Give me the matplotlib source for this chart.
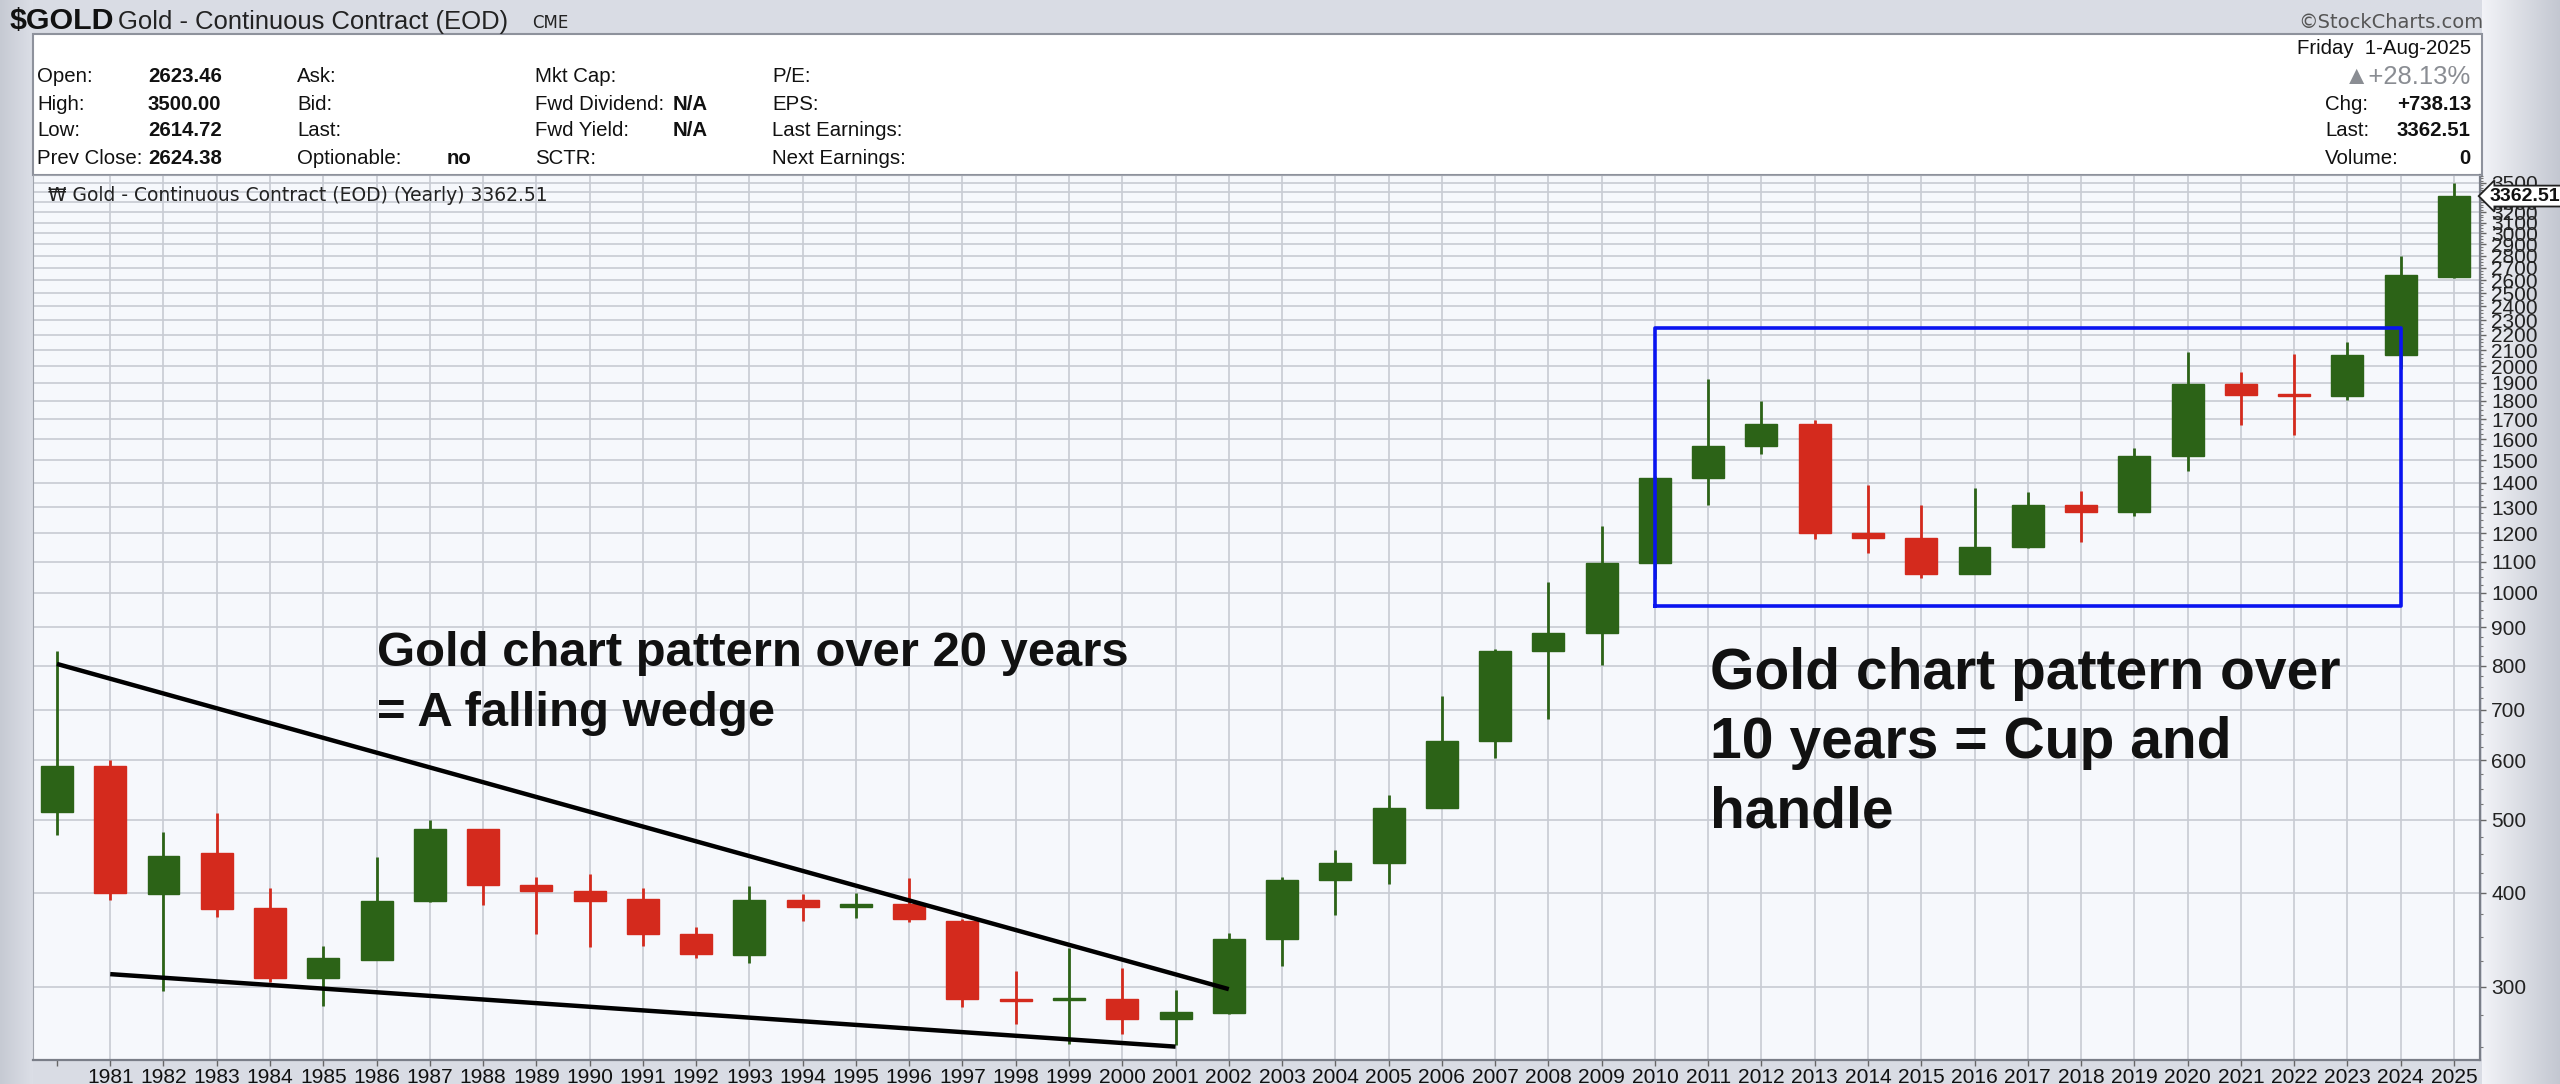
import numpy as np
import matplotlib
matplotlib.use("Agg")
import matplotlib.pyplot as plt
from matplotlib import font_manager as fm
from matplotlib.patches import Rectangle
from matplotlib.ticker import FixedLocator, FixedFormatter, NullFormatter

# ---------------- data ----------------
years = list(range(1980, 2026))
opens = [512, 590, 398, 452, 382, 308, 326, 390, 486, 410, 402, 393, 353, 331, 391, 383,
         387, 367, 289, 288, 289, 272, 277, 347, 416, 438, 518, 636, 838, 884, 1097, 1421,
         1566, 1675, 1202, 1184, 1061, 1152, 1309, 1282, 1519, 1895, 1829, 1826, 2072, 2623.46]
highs = [838, 600, 481, 510, 406, 340, 446, 500, 486, 420, 424, 406, 360, 409, 399, 400,
         418, 369, 315, 338, 318, 297, 354, 420, 456, 540, 730, 842, 1033, 1227, 1430, 1923,
         1796, 1697, 1392, 1308, 1377, 1362, 1366, 1557, 2089, 1962, 2078, 2152, 2801, 3500.00]
lows = [478, 391, 296, 372, 305, 283, 326, 389, 385, 353, 339, 340, 328, 323, 367, 370,
        366, 282, 268, 252, 260, 251, 276, 320, 374, 411, 518, 603, 681, 803, 1044, 1308,
        1527, 1180, 1131, 1046, 1061, 1147, 1167, 1266, 1451, 1673, 1618, 1804, 1985, 2614.72]
closes = [590, 400, 447, 381, 308, 328, 390, 486, 410, 402, 390, 353, 332, 391, 383, 387,
          369, 289, 287, 289, 272, 278, 347, 416, 438, 518, 636, 838, 884, 1097, 1421, 1566,
          1675, 1202, 1184, 1061, 1152, 1309, 1282, 1519, 1895, 1829, 1826, 2072, 2641, 3362.51]

xtick_years = list(range(1981, 2026))
ytick_values = [300, 400, 500, 600, 700, 800, 900] + list(range(1000, 3600, 100))

wedge_upper_x = [1980, 2002]
wedge_upper_y = [805, 298]
wedge_lower_x = [1981, 2001]
wedge_lower_y = [312, 250]
box_x = [2010, 2024]
box_y = [960, 2250]

last_price = 3362.51

# ---------------- fonts ----------------
names = {f.name for f in fm.fontManager.ttflist}
if "Liberation Sans Narrow" in names:
    NARROW = "Liberation Sans Narrow"
    NS = 1.0
else:
    NARROW = "Liberation Sans"
    NS = 0.84

def nk(size, **kw):
    d = dict(family=NARROW, fontsize=size * NS)
    d.update(kw)
    return d

W, H = 2560, 1084
fig = plt.figure(figsize=(W / 100, H / 100), dpi=100)
fig.patch.set_facecolor("#d8dbe3")

def fx(x):
    return x / W

def fy(y):
    return 1 - y / H

# background gradients
bg = fig.add_axes([0, 0, 1, 1], zorder=-10)
bg.set_axis_off()
img = np.ones((H, W, 3))
base = np.array([0xd9, 0xdc, 0xe4]) / 255
img[:] = base
xs = np.arange(W)
t = np.clip((xs - 2482) / (W - 2482), 0, 1)
c0 = np.array([0xf2, 0xf3, 0xf7]) / 255
c1 = np.array([0xc3, 0xc7, 0xd1]) / 255
right = c0[None, :] * (1 - t[:, None]) + c1[None, :] * t[:, None]
mask = xs >= 2482
img[:, mask, :] = right[mask][None, :, :]
tl = np.clip(xs / 33, 0, 1)
cl0 = np.array([0xc6, 0xca, 0xd3]) / 255
cl1 = np.array([0xdc, 0xdf, 0xe7]) / 255
left = cl0[None, :] * (1 - tl[:, None]) + cl1[None, :] * tl[:, None]
lm = xs < 33
img[:, lm, :] = left[lm][None, :, :]
bg.imshow(img, extent=[0, 1, 0, 1], aspect="auto", interpolation="bilinear")
bg.set_xlim(0, 1)
bg.set_ylim(0, 1)

# info box
fig.patches.append(Rectangle((fx(33), fy(175)), fx(2482) - fx(33), fy(34) - fy(175),
                             transform=fig.transFigure, facecolor="white",
                             edgecolor="#8e929c", lw=1.5, zorder=-5))

# ---------------- header text ----------------
fig.text(fx(10), fy(21), "$GOLD", va="center", ha="left", weight="bold", color="#111", **nk(26))
fig.text(fx(118), fy(22), "Gold - Continuous Contract (EOD)", va="center", ha="left", color="#222", **nk(22))
fig.text(fx(532), fy(23), "CME", va="center", ha="left", color="#222", family="DejaVu Sans", fontsize=12)
fig.text(fx(2483), fy(22), "\u00a9StockCharts.com", va="center", ha="right", color="#555",
         family="DejaVu Sans", fontsize=14)

rows_y = [77, 104, 131, 158]
col_lab = ["Open:", "High:", "Low:", "Prev Close:"]
col_val = ["2623.46", "3500.00", "2614.72", "2624.38"]
for y, l, v in zip(rows_y, col_lab, col_val):
    fig.text(fx(37), fy(y), l, va="center", ha="left", color="#111", **nk(17.5))
    fig.text(fx(148), fy(y), v, va="center", ha="left", color="#111", weight="bold", **nk(17.5))
for y, l in zip(rows_y, ["Ask:", "Bid:", "Last:", "Optionable:"]):
    fig.text(fx(297), fy(y), l, va="center", ha="left", color="#111", **nk(17.5))
fig.text(fx(447), fy(rows_y[3]), "no", va="center", ha="left", color="#111", weight="bold", **nk(17.5))
for y, l in zip(rows_y, ["Mkt Cap:", "Fwd Dividend:", "Fwd Yield:", "SCTR:"]):
    fig.text(fx(535), fy(y), l, va="center", ha="left", color="#111", **nk(17.5))
for y in rows_y[1:3]:
    fig.text(fx(673), fy(y), "N/A", va="center", ha="left", color="#111", weight="bold", **nk(17.5))
for y, l in zip(rows_y, ["P/E:", "EPS:", "Last Earnings:", "Next Earnings:"]):
    fig.text(fx(772), fy(y), l, va="center", ha="left", color="#111", **nk(17.5))

fig.text(fx(2471), fy(49), "Friday  1-Aug-2025", va="center", ha="right", color="#111", **nk(17.5))
fig.text(fx(2471), fy(77), "\u25b2+28.13%", va="center", ha="right", color="#8a8d93", **nk(22))
for y, l, v in zip(rows_y[1:], ["Chg:", "Last:", "Volume:"], ["+738.13", "3362.51", "0"]):
    fig.text(fx(2325), fy(y), l, va="center", ha="left", color="#111", **nk(17.5))
    fig.text(fx(2471), fy(y), v, va="center", ha="right", color="#111", weight="bold", **nk(17.5))

# ---------------- main chart ----------------
ax = fig.add_axes([fx(33), fy(1060), fx(2480) - fx(33), fy(175) - fy(1060)])
ax.set_facecolor("#f6f8fc")
ax.set_yscale("log")
ax.set_ylim(240, 3586)
ax.set_xlim(1979.55, 2025.49)

green = "#2c6317"
red = "#d42a1d"
o = np.array(opens, float)
c = np.array(closes, float)
h = np.array(highs, float)
l = np.array(lows, float)
yrs = np.array(years, float)
cols = [green if cc >= oo else red for oo, cc in zip(o, c)]
ax.vlines(yrs, l, h, colors=cols, lw=2.0, zorder=3)
bottom = np.minimum(o, c)
height = np.maximum(np.abs(c - o), bottom * 0.006)
ax.bar(yrs, height, bottom=bottom, width=0.6, color=cols, edgecolor=cols, lw=1, zorder=4)

# wedge lines and box
ax.plot(wedge_upper_x, wedge_upper_y, color="black", lw=3.2, zorder=5, solid_capstyle="butt")
ax.plot(wedge_lower_x, wedge_lower_y, color="black", lw=3.2, zorder=5, solid_capstyle="butt")
ax.plot([box_x[0], box_x[1], box_x[1], box_x[0], box_x[0]],
        [box_y[0], box_y[0], box_y[1], box_y[1], box_y[0]], color="#0a14f0", lw=2.6, zorder=6)

# grid / ticks
ax.yaxis.set_major_locator(FixedLocator(ytick_values))
ax.yaxis.set_major_formatter(FixedFormatter([str(v) for v in ytick_values]))
minor = [v for v in range(250, 3600, 25) if v not in ytick_values]
ax.yaxis.set_minor_locator(FixedLocator(minor))
ax.yaxis.set_minor_formatter(NullFormatter())
ax.xaxis.set_major_locator(FixedLocator(xtick_years))
ax.xaxis.set_major_formatter(FixedFormatter([str(y) for y in xtick_years]))
ax.xaxis.set_minor_locator(FixedLocator([1980]))
ax.grid(True, which="major", color="#c8cbd3", lw=1.2, zorder=0)
ax.set_axisbelow(True)
ax.yaxis.tick_right()
ax.tick_params(axis="y", which="major", length=4, width=1, color="#666", pad=4,
               labelsize=15, labelcolor="#222")
ax.tick_params(axis="y", which="minor", length=2, width=0.8, color="#777")
ax.tick_params(axis="x", which="both", length=4, width=1, color="#666", pad=2,
               labelcolor="#111")
for lab in ax.get_yticklabels():
    lab.set_family("Liberation Sans")
for lab in ax.get_xticklabels():
    lab.set_family(NARROW)
    lab.set_fontsize(18 * NS)
for s in ["left", "top"]:
    ax.spines[s].set_color("#a0a4ad")
for s in ["right", "bottom"]:
    ax.spines[s].set_color("#7a7e88")
    ax.spines[s].set_linewidth(1.6)

# legend line
ax.text(0.006, 0.988, "\u20a9 Gold - Continuous Contract (EOD) (Yearly) 3362.51", transform=ax.transAxes,
        ha="left", va="top", family="DejaVu Sans", fontsize=13.5, color="#222", zorder=7)

# price tag
ax.annotate(f"{last_price:.2f}", xy=(1, last_price), xycoords=("axes fraction", "data"),
            xytext=(7, 0), textcoords="offset points", ha="left", va="center",
            fontsize=14, weight="bold", family="Liberation Sans", color="#111",
            bbox=dict(boxstyle="larrow,pad=0.1", fc="white", ec="#222", lw=1.3),
            annotation_clip=False, zorder=10)

# annotations
fig.text(fx(377), fy(666), "Gold chart pattern over 20 years", ha="left", va="baseline",
         family="Liberation Sans", weight="bold", fontsize=35.3, color="#111")
fig.text(fx(377), fy(726), "= A falling wedge", ha="left", va="baseline",
         family="Liberation Sans", weight="bold", fontsize=35.3, color="#111")
for i, s in enumerate(["Gold chart pattern over", "10 years = Cup and", "handle"]):
    fig.text(fx(1710), fy(689 + 69 * i), s, ha="left", va="baseline",
             family="Liberation Sans", weight="bold", fontsize=41, color="#111")

fig.savefig("out.png", dpi=100, facecolor=fig.get_facecolor())
